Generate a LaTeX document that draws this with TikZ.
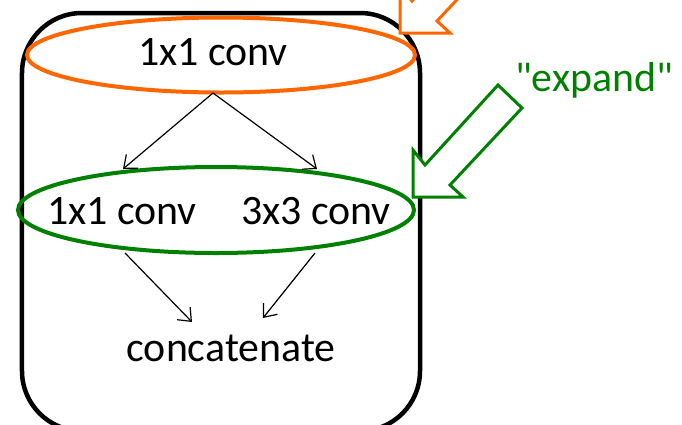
\documentclass[tikz,border=0pt]{standalone}
\usepackage{fontspec}
\setmainfont{Carlito}
\newfontfamily\quotefont{Carlito}[Ligatures=TeXOff]
\usetikzlibrary{positioning, shapes.geometric, arrows.meta}

\definecolor{sqorange}{RGB}{255,102,0}
\definecolor{exgreen}{RGB}{0,128,0}

\begin{document}
\begin{tikzpicture}[
  x=1bp, y=-1bp,
  font=\fontsize{42}{48}\selectfont,
  module/.style={draw, line width=4.5bp, rounded corners=60bp,
                 minimum width=398bp, minimum height=418bp},
  layer/.style={draw, ellipse, line width=4bp, inner sep=0pt},
  flow/.style={-{Straight Barb[length=11bp, width=18bp]}, line width=1.2bp},
  hint/.style={draw=#1, fill=white, line width=3bp, line join=miter},
]
\useasboundingbox (0,0) rectangle (682,424);
\clip (0,0) rectangle (682,424);

% fire module outline
\node[module] (fire) at (221,222) {};

% squeeze and expand layers
\node[layer, draw=sqorange, minimum width=388bp, minimum height=75bp]
    (squeeze) at (221,55) {};
\node[layer, draw=exgreen, minimum width=396bp, minimum height=86bp]
    (expand) at (216,210) {};

\node (sq) at (213,52) {1x1 conv};
\node (ex1) at (122,211) {1x1 conv};
\node (ex3) at (316,211) {3x3 conv};
\node (cat) at (231,348) {concatenate};

\coordinate (split) at (213,93);
\coordinate (in1) at (123,169);
\coordinate (in3) at (317,169);
\coordinate (out1) at (125,253);
\coordinate (out3) at (315,253);
\coordinate (cat1) at (192,322);
\coordinate (cat3) at (263,318);

\draw[flow] (split) -- (in1);
\draw[flow] (split) -- (in3);
\draw[flow] (out1) -- (cat1);
\draw[flow] (out3) -- (cat3);

% block arrows pointing at the layers
\draw[hint=sqorange, shift={(400,33)}]
  (0,0) -- (0,-47) -- (12,-32) -- (85,-112) -- (109,-89) -- (37,-12) -- (50,0) -- cycle;
\draw[hint=exgreen, shift={(413,197)}]
  (0,0) -- (0,-47) -- (12,-32) -- (85,-112) -- (109,-89) -- (37,-12) -- (50,0) -- cycle;

\node[text=exgreen, font=\quotefont\fontsize{42}{48}\selectfont] (label) at (594,80) {"expand"};

\end{tikzpicture}
\end{document}
